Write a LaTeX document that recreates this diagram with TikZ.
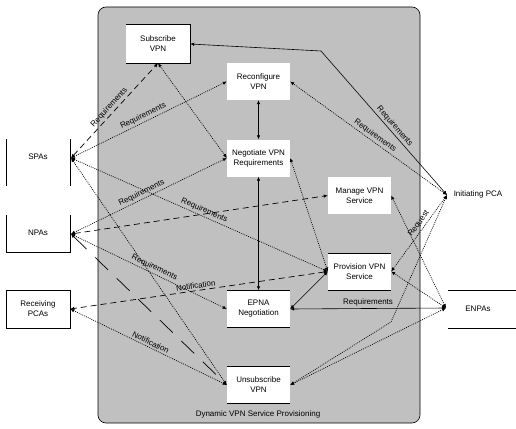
\documentclass[tikz,border=0pt]{standalone}
\usepackage{fontspec}
\setmainfont{Liberation Sans}
\usetikzlibrary{arrows.meta}
\definecolor{panel}{RGB}{192,192,192}
\begin{document}
\begin{tikzpicture}[x=1pt,y=1pt,
  font=\fontsize{8}{10}\selectfont,
  box/.style={fill=white, minimum width=63pt, minimum height=37pt, align=center, inner sep=0pt},
  edge/.style={line width=0.6pt},
  conn/.style={line width=0.6pt, {Latex[length=4pt,width=3.5pt]}-{Latex[length=4pt,width=3.5pt]}},
  dots/.style={conn, line width=0.7pt, dash pattern=on 0.9pt off 1.1pt},
  dashline/.style={conn, line width=0.7pt, dash pattern=on 6pt off 4pt},
  longdash/.style={conn, line width=0.7pt, dash pattern=on 18pt off 12pt},
  lab/.style={sloped, above, inner sep=1.8pt}
]
\useasboundingbox (0,0) rectangle (516,-428);

% container
\node[draw, fill=panel, rounded corners=8pt, line width=0.6pt, minimum width=322pt, minimum height=416pt, inner sep=0pt] (frame) at (259,-215) {};
\node (framelabel) at (258,-414) {Dynamic VPN Service Provisioning};

% inner boxes
\node[box, minimum width=64pt, minimum height=38pt] (sub) at (158,-44) {Subscribe\\VPN};
\node[box] (rec) at (258.5,-81.5) {Reconfigure\\VPN};
\node[box] (neg) at (258.5,-158) {Negotiate VPN\\Requirements};
\node[box] (man) at (359.5,-195.5) {Manage VPN\\Service};
\node[box] (pro) at (359.5,-271.5) {Provision VPN\\Service};
\node[box] (epn) at (258.5,-309) {EPNA\\Negotiation};
\node[box] (uns) at (258.5,-385) {Unsubscribe\\VPN};

\draw[edge] (sub.north west) -- (sub.north east) -- (sub.south east) -- (sub.south west);
\foreach \n in {pro,epn,uns}{
  \draw[edge] (\n.north west) -- (\n.north east);
  \draw[edge] (\n.south west) -- (\n.south east);
}

% actors
\node (spas) at (38,-157) {SPAs};
\draw[edge] (6,-139) -- (6,-186);
\draw[edge] (70,-139) -- (70,-186);
\coordinate (spa) at (71,-158);

\node (npas) at (38,-233) {NPAs};
\draw[edge] (6,-215) -- (6,-252) -- (70,-252) -- (70,-215);
\coordinate (npa) at (71,-234);

\node[draw, fill=white, line width=0.6pt, minimum width=64pt, minimum height=38pt, inner sep=0pt, align=center] (rpcas) at (38,-309) {Receiving\\PCAs};

\node (ipcas) at (478,-194) {Initiating PCA};
\coordinate (ipca) at (447,-195);

\node (enpas) at (478,-309) {ENPAs};
\draw[edge] (448,-290) -- (516,-290);
\draw[edge] (448,-328) -- (516,-328);
\coordinate (enpa) at (446,-308);

\coordinate (bend1) at (321,-51);
\coordinate (bend2) at (391,-322);

% connectors
\draw[conn] (ipca) -- node[lab, pos=0.45] (l1) {Requirements} (bend1) -- (sub.east);
\draw[dots] (ipca) -- node[lab, pos=0.48] (l2) {Requirements} (rec.east);
\draw[dashline] (spa) -- node[lab, pos=0.49] (l3) {Requirements} (sub.south);
\draw[dots] (spa) -- node[lab, pos=0.48] (l4) {Requirements} (rec.west);
\draw[dots] (neg.west) -- (sub.south);
\draw[dots] (npa) -- node[lab, pos=0.47] (l5) {Requirements} (neg.west);
\draw[dots] (spa) -- node[lab, pos=0.51] (l6) {Requirements} (pro.west);
\draw[dashline] (npa) -- (man.west);
\draw[dots] (npa) -- node[lab, pos=0.52] (l7) {Requirements} (epn.west);
\draw[dots] (spa) -- (uns.west);
\draw[longdash] (npa) -- (uns.west);
\draw[dashline] (pro.west) -- node[lab, pos=0.51] (l8) {Notification} (rpcas.east);
\draw[dots] (uns.west) -- node[lab, pos=0.5] (l9) {Notification} (rpcas.east);
\draw[conn] (rec.south) -- (neg.north);
\draw[conn] (neg.south) -- (epn.north);
\draw[dots] (neg.east) -- (pro.west);
\draw[conn] (pro.west) -- (epn.east);
\draw[conn] (epn.east) -- node[lab, pos=0.5] (l10) {Requirements} (enpa);
\draw[dots] (ipca) -- node[lab, pos=0.42] (l11) {Request} (pro.east);
\draw[dots] (ipca) -- (bend2) -- (uns.east);
\draw[dots] (enpa) -- (man.east);
\draw[dots] (enpa) -- (pro.east);
\draw[dots] (enpa) -- (uns.east);
\end{tikzpicture}
\end{document}
